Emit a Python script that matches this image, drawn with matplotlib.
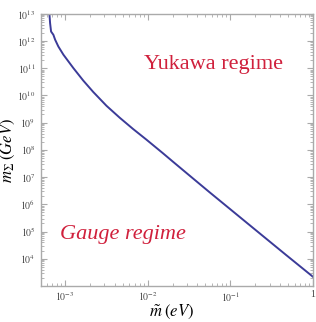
import numpy as np
import matplotlib
matplotlib.use("Agg")
import matplotlib.pyplot as plt

plt.rcParams['font.family'] = ['Liberation Serif', 'DejaVu Serif']
plt.rcParams['mathtext.fontset'] = 'stix'

# curve (log10 values)
log_m = [-3.189, -3.181, -3.169, -3.141, -3.120, -3.081, -3.020, -2.900,
         -2.780, -2.659, -2.498, -2.337, -2.177, -2.016, -1.816, -1.695,
         -1.494, -1.253, -1.012, -0.731, -0.329, 0.0]
log_mS = [13.0, 12.66, 12.35, 12.23, 12.05, 11.80, 11.50, 11.01,
          10.55, 10.13, 9.62, 9.18, 8.77, 8.38, 7.88, 7.57,
          7.06, 6.45, 5.85, 5.15, 4.15, 3.34]

m = 10 ** np.array(log_m)
mS = 10 ** np.array(log_mS)

fig = plt.figure(figsize=(3.16, 3.22), dpi=100)
ax = fig.add_axes([0.130, 0.112, 0.860, 0.845])
ax.plot(m, mS, color='#3b3b98', lw=1.4)
ax.set_xscale('log')
ax.set_yscale('log')
ax.set_xlim(10 ** -3.29, 1)
ax.set_ylim(1e3, 1e13)

grey = '#aaaaaa'
for s in ax.spines.values():
    s.set_color(grey)
    s.set_linewidth(1.0)
ax.tick_params(which='both', direction='in', top=True, right=True, color=grey, labelsize=7)
ax.tick_params(which='major', length=4)
ax.tick_params(which='minor', length=2)
ax.set_xticks([1e-3, 1e-2, 1e-1, 1])
ax.set_xticklabels([r'$10^{-3}$', r'$10^{-2}$', r'$10^{-1}$', '1'])
ax.set_yticks([10.0 ** k for k in range(4, 14)])
ax.set_yticklabels([r'$10^{%d}$' % k for k in range(4, 14)])
ax.yaxis.set_minor_locator(matplotlib.ticker.LogLocator(base=10, subs=np.arange(2, 10), numticks=20))
ax.yaxis.set_minor_formatter(matplotlib.ticker.NullFormatter())
ax.tick_params(axis='both', pad=4, colors='#444444', labelcolor='#444444')
ax.tick_params(axis='x', pad=3)
ax.tick_params(which='both', color=grey)

ax.set_xlabel(r'$\tilde{m}\;(eV)$', fontsize=12)
ax.set_ylabel(r'$m_{\Sigma}\;(GeV)$', fontsize=12)
ax.xaxis.set_label_coords(0.48, -0.062)
ax.yaxis.set_label_coords(-0.088, 0.5)

red = '#d0203c'
ax.text(0.89, 0.815, 'Yukawa regime', transform=ax.transAxes, color=red,
        fontsize=16, ha='right', va='center')
ax.text(0.07, 0.19, 'Gauge regime', transform=ax.transAxes, color=red,
        fontsize=16, ha='left', va='center', style='italic')

fig.savefig('out.png', dpi=100)
